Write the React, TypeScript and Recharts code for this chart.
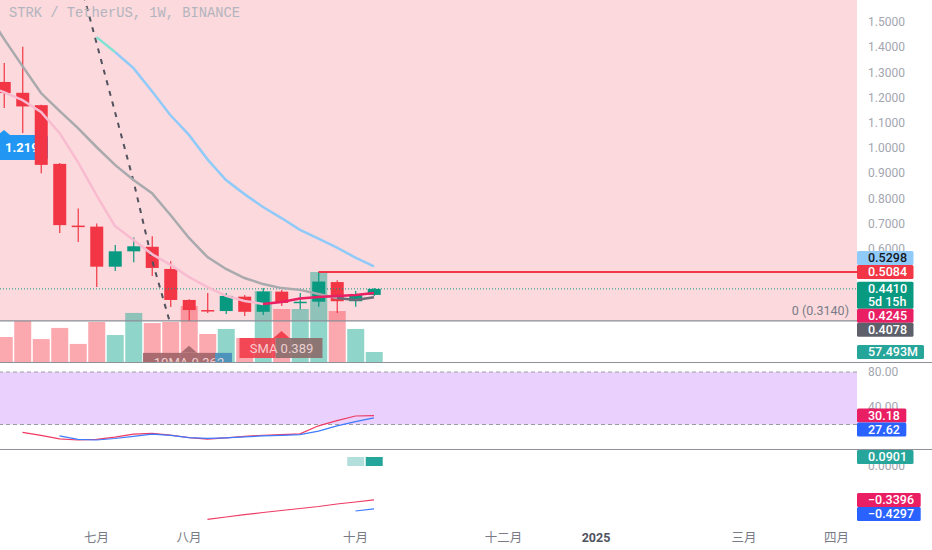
import React from "react";
import {
    ComposedChart,
    Bar,
    Line,
    XAxis,
    YAxis,
    ReferenceLine,
    ReferenceArea,
    ReferenceDot,
    Cell,
} from "recharts";

// week index (0 = first visible weekly candle), -1 only carries MA values
const weeks = [-1, 0, 1, 2, 3, 4, 5, 6, 7, 8, 9, 10, 11, 12, 13, 14, 15, 16, 17, 18, 19, 20];
const opens = [null, 1.262, 1.219, 1.17, 0.937, 0.692, 0.688, 0.529, 0.59, 0.608, 0.52, 0.397, 0.357, 0.353, 0.41, 0.35, 0.43, 0.385, 0.39, 0.468, 0.392, 0.417];
const highs = [null, 1.337, 1.402, 1.172, 0.94, 0.76, 0.7, 0.615, 0.645, 0.65, 0.551, 0.4, 0.425, 0.425, 0.417, 0.444, 0.437, 0.425, 0.5084, 0.475, 0.433, 0.444];
const lows = [null, 1.159, 1.06, 0.9, 0.663, 0.627, 0.448, 0.512, 0.547, 0.492, 0.369, 0.314, 0.345, 0.341, 0.333, 0.337, 0.373, 0.36, 0.37, 0.345, 0.37, 0.413];
const closes = [null, 1.218, 1.165, 0.933, 0.694, 0.688, 0.529, 0.59, 0.61, 0.524, 0.397, 0.357, 0.354, 0.413, 0.35, 0.43, 0.385, 0.39, 0.47, 0.392, 0.418, 0.441];
const volumes = [null, 144, 236, 132, 196, 104, 230, 155, 282, 224, 230, 322, 161, 190, 138, 408, 305, 305, 518, 293, 190, 57.493];

const blueMa = [null, null, null, null, null, null, null, 1.381, 1.317, 1.225, 1.13, 1.052, 0.955, 0.873, 0.817, 0.766, 0.722, 0.675, 0.64, 0.605, 0.565, 0.5298];
const tealMa = [null, null, null, null, null, null, 1.44, 1.381, null, null, null, null, null, null, null, null, null, null, null, null, null, null];
const grayMa = [1.547, 1.433, 1.325, 1.218, 1.147, 1.079, 1.004, 0.933, 0.873, 0.821, 0.734, 0.643, 0.567, 0.52, 0.484, 0.46, 0.444, 0.437, 0.421, 0.405, null, null];
const darkGrayMa = [null, null, null, null, null, null, null, null, null, null, null, null, null, null, null, null, null, null, null, 0.405, 0.397, 0.4078];
const pinkMa = [1.246, 1.222, 1.19, 1.143, 1.06, 0.944, 0.813, 0.69, 0.635, 0.579, 0.536, 0.488, 0.448, 0.413, 0.393, 0.381, null, null, null, null, null, null];
const crimsonMa = [null, null, null, null, null, null, null, null, null, null, null, null, null, null, null, 0.381, 0.389, 0.403, 0.409, 0.413, 0.417, 0.4245];
const dashMa = [null, null, null, null, null, 1.69, 1.417, 1.143, 0.869, 0.556, 0.3, null, null, null, null, null, null, null, null, null, null, null];

const stochK = [null, null, 11.1, 7.5, 3.5, 2.3, 3.0, 5.5, 9.1, 9.9, 7.8, 5.0, 3.4, 4.8, 6.5, 7.7, 8.5, 9.3, 18.5, 24.5, 29.7, 30.18];
const stochD = [null, null, null, null, 6.9, 3.0, 2.3, 4.0, 6.5, 9.1, 7.5, 5.0, 4.2, 4.8, 5.8, 6.9, 7.6, 8.5, 12.5, 18.5, 23.2, 27.62];

const macdLine = [null, null, null, null, null, null, null, null, null, null, null, null, -0.533, -0.51, -0.487, -0.465, -0.445, -0.425, -0.405, -0.38, -0.36, -0.3396];
const signalLine = [null, null, null, null, null, null, null, null, null, null, null, null, null, null, null, null, null, null, null, null, -0.45, -0.4297];
const macdHist = [null, null, null, null, null, null, null, null, null, null, null, null, null, null, null, null, null, null, null, null, 0.09, 0.0901];

const priceTicks = [0.6, 0.7, 0.8, 0.9, 1.0, 1.1, 1.2, 1.3, 1.4, 1.5];
const tickWeeks = [5, 10, 19, 27, 32, 40, 45];
const tickLabels = ["七月", "八月", "十月", "十二月", "2025", "三月", "四月"];

const TITLE = "STRK / TetherUS, 1W, BINANCE";
const COUNTDOWN = "5d 15h";
const MA10_TEXT = "10MA 0.362";
const LEFT_TAG_TEXT = "1.2193";

// layout
const W = 932;
const AXIS_W = 75;
const X_DOMAIN: [number, number] = [-0.216, 46.11];
const MAIN_H = 362;
const P_DOMAIN: [number, number] = [0.1508, 1.5873];
const VOL_MAX = 2081.5;
const RSI_TOP = 363;
const RSI_H = 86;
const RSI_DOMAIN: [number, number] = [-8, 90.29];
const MACD_TOP = 450;
const MACD_H = 100;
const X_AXIS_H = 28;
const MACD_DOMAIN: [number, number] = [-0.56, 0.16];

const UP = "#089981";
const DOWN = "#f23645";
const AXIS_TEXT = "#a3a6af";
const FONT = "Roboto, 'DejaVu Sans', sans-serif";

const rows = weeks.map((week, k) => ({
    week,
    open: opens[k],
    high: highs[k],
    low: lows[k],
    close: closes[k],
    vol: volumes[k],
    blue: blueMa[k],
    teal: tealMa[k],
    gray: grayMa[k],
    darkGray: darkGrayMa[k],
    pink: pinkMa[k],
    crimson: crimsonMa[k],
    dash: dashMa[k],
    k: stochK[k],
    d: stochD[k],
    macd: macdLine[k],
    signal: signalLine[k],
    hist: macdHist[k],
}));

const at = (arr: any[], week: number) => arr[weeks.indexOf(week)];
const last = (arr: any[]) => arr[arr.length - 1];

const fibLow = Math.min(...(lows.filter((v) => v != null) as number[]));
// horizontal ray from the swing high after week 9
const rayWeek = weeks.reduce((best, w, k) =>
    w > 9 && highs[k] != null && highs[k]! > at(highs, best) ? w : best, 10);
const rayHigh = at(highs, rayWeek);

const fmt = (v: number, d: number) => v.toFixed(d).replace("-", "\u2212");

const textWidth = (s: string) =>
    s.split("").reduce((sum, c) => {
        if (/[0-9]/.test(c)) return sum + 7.2;
        if (c === ".") return sum + 3.5;
        if (c === " ") return sum + 3.3;
        if (c === "M") return sum + 10.5;
        return sum + 7.2;
    }, 0);

type Tag = { value: number; text: string; sub?: string; bg: string; fg: string; anchor?: boolean; shift?: number };

function stackTags(tags: Tag[], dom: [number, number], plotH: number): Tag[] {
    const toPx = (v: number) => ((dom[1] - v) / (dom[1] - dom[0])) * plotH;
    let a = tags.findIndex((t) => t.anchor);
    if (a < 0) a = 0;
    const heights = tags.map((t) => (t.sub ? 27 : 14));
    const tops = tags.map((t) => toPx(t.value) - 7);
    const idx = tags.map((_, k) => k);
    const above = idx.filter((k) => tags[k].value > tags[a].value).sort((p, q) => tags[p].value - tags[q].value);
    let limit = tops[a];
    for (const k of above) {
        tops[k] = Math.min(tops[k], limit - heights[k]);
        limit = tops[k];
    }
    const below = idx.filter((k) => k !== a && tags[k].value <= tags[a].value).sort((p, q) => tags[q].value - tags[p].value);
    limit = tops[a] + heights[a];
    for (const k of below) {
        tops[k] = Math.max(tops[k], limit);
        limit = tops[k] + heights[k];
    }
    return tags.map((t, k) => ({ ...t, shift: tops[k] - (toPx(t.value) - 7) }));
}

const mainTags = stackTags(
    [
        { value: last(blueMa), text: fmt(last(blueMa), 4), bg: "#90caf9", fg: "#131722" },
        { value: rayHigh, text: fmt(rayHigh, 4), bg: "#f23645", fg: "#ffffff" },
        { value: last(closes), text: fmt(last(closes), 4), sub: COUNTDOWN, bg: UP, fg: "#ffffff", anchor: true },
        { value: last(crimsonMa), text: fmt(last(crimsonMa), 4), bg: "#e91e63", fg: "#ffffff" },
        { value: last(darkGrayMa), text: fmt(last(darkGrayMa), 4), bg: "#5d606b", fg: "#ffffff" },
    ],
    P_DOMAIN,
    MAIN_H
);
const volTag: Tag = { value: last(volumes), text: fmt(last(volumes), 3) + "M", bg: "#26a69a", fg: "#ffffff", shift: 0 };
const rsiTags = stackTags(
    [
        { value: last(stochK), text: fmt(last(stochK), 2), bg: "#e91e63", fg: "#ffffff", anchor: true },
        { value: last(stochD), text: fmt(last(stochD), 2), bg: "#2962ff", fg: "#ffffff" },
    ],
    RSI_DOMAIN,
    RSI_H
);
const macdTags = stackTags(
    [
        { value: last(macdHist), text: fmt(last(macdHist), 4), bg: "#26a69a", fg: "#ffffff", anchor: true },
        { value: last(macdLine), text: fmt(last(macdLine), 4), bg: "#e91e63", fg: "#ffffff" },
        { value: last(signalLine), text: fmt(last(signalLine), 4), bg: "#2962ff", fg: "#ffffff" },
    ],
    MACD_DOMAIN,
    MACD_H - X_AXIS_H
);

const candleRange = (d: any) => (d.low == null ? null : [d.low, d.high]);

const Candle = (props: any) => {
    const { x, y, width, height, payload } = props;
    if (!payload || payload.open == null) return null;
    const { open, close, high, low } = payload;
    const top = Math.min(y, y + height);
    const h = Math.abs(height);
    const ppu = high > low ? h / (high - low) : 0;
    const yOpen = top + (high - open) * ppu;
    const yClose = top + (high - close) * ppu;
    const color = close >= open ? UP : DOWN;
    const cx = x + width / 2;
    const bTop = Math.min(yOpen, yClose);
    const bH = Math.max(1.5, Math.abs(yOpen - yClose));
    return (
        <g>
            <line x1={cx} x2={cx} y1={top} y2={top + h} stroke={color} strokeWidth={1.2} />
            <rect x={x} y={bTop} width={width} height={bH} fill={color} />
        </g>
    );
};

const TagBox = (props: any) => {
    const { cx, cy, tag } = props;
    if (cx == null || cy == null) return null;
    const w = Math.max(textWidth(tag.text), tag.sub ? textWidth(tag.sub) : 0) + 17;
    const h = tag.sub ? 27 : 14;
    const top = cy - 7 + (tag.shift || 0);
    return (
        <g>
            <rect x={cx} y={top} width={w} height={h} rx={1.5} fill={tag.bg} />
            <text x={cx + 11} y={top + 11} fontSize={12.5} fontWeight={500} fontFamily={FONT} fill={tag.fg}>
                {tag.text}
            </text>
            {tag.sub && (
                <text x={cx + 11} y={top + 24} fontSize={12.5} fontWeight={500} fontFamily={FONT} fill={tag.fg}>
                    {tag.sub}
                </text>
            )}
        </g>
    );
};

// label hanging under a bar low, pointing up at it
const BarTag = (props: any) => {
    const { cx, cy, text, left, right, split, colorA, colorB, arrow } = props;
    if (cx == null || cy == null) return null;
    const top = cy + 32;
    return (
        <g>
            <polygon points={`${cx - 8},${top} ${cx},${top - 7} ${cx + 8},${top}`} fill={arrow} />
            <rect x={cx - left} y={top} width={split} height={20} fill={colorA} />
            <rect x={cx - left + split} y={top} width={left + right - split} height={20} fill={colorB} />
            <text x={cx} y={top + 14.5} textAnchor="middle" fontSize={13} fontFamily={FONT} fill="rgba(255,225,228,0.85)">
                {text}
            </text>
        </g>
    );
};

const LeftTag = (props: any) => {
    const { cx, cy } = props;
    if (cx == null || cy == null) return null;
    const top = cy + 27;
    return (
        <g>
            <polygon points={`${cx - 6},${top} ${cx},${top - 5} ${cx + 6},${top}`} fill="#2196f3" />
            <rect x={cx - 14} y={top} width={58} height={25} rx={3} fill="#2196f3" />
            <text x={cx + 1} y={top + 17} fontSize={13} fontWeight={700} fontFamily={FONT} fill="#ffffff">
                {LEFT_TAG_TEXT}
            </text>
        </g>
    );
};

const FibLabel = (props: any) => {
    const vb = props.viewBox || {};
    return (
        <text x={vb.x + vb.width - 8} y={vb.y - 6} textAnchor="end" fontSize={12.5} fontFamily={FONT} fill="#787b86">
            {`0 (${fibLow.toFixed(4)})`}
        </text>
    );
};

const MonthTick = (props: any) => {
    const { x, y, payload } = props;
    const label = tickLabels[tickWeeks.indexOf(payload.value)];
    const isYear = /^\d+$/.test(label);
    return (
        <text
            x={x}
            y={y + 12}
            textAnchor="middle"
            fontSize={12.5}
            fontFamily={isYear ? FONT : "'Noto Sans CJK SC', sans-serif"}
            fontWeight={isYear ? 700 : 400}
            fill={isYear ? "#50535e" : "#787b86"}
        >
            {label}
        </text>
    );
};

const axisTick = { fill: AXIS_TEXT, fontSize: 12, fontFamily: FONT };

function TagOverlay({ height, domain, bottom, tags }: { height: number; domain: [number, number]; bottom: number; tags: Tag[] }) {
    return (
        <ComposedChart width={W} height={height} data={rows} margin={{ top: 0, right: AXIS_W, bottom, left: 0 }}>
            <XAxis type="number" dataKey="week" domain={X_DOMAIN} allowDataOverflow hide />
            <YAxis yAxisId="t" domain={domain} allowDataOverflow hide />
            {tags.map((t, k) => (
                <ReferenceDot
                    key={k}
                    yAxisId="t"
                    x={X_DOMAIN[1]}
                    y={t.value}
                    ifOverflow="visible"
                    shape={(p: any) => <TagBox cx={p.cx} cy={p.cy} tag={t} />}
                />
            ))}
        </ComposedChart>
    );
}

const layer = (top: number, height: number): React.CSSProperties => ({
    position: "absolute",
    left: 0,
    top,
    width: W,
    height,
    overflow: "hidden",
});

// shared look for every moving-average line
const ma = { type: "linear" as const, dot: false, activeDot: false, isAnimationActive: false, strokeWidth: 2.5 };

export default function App() {
    return (
        <div style={{ position: "relative", width: W, height: 550, background: "#ffffff", overflow: "hidden" }}>
            <style>{"body{margin:0}"}</style>

            {/* MAIN PANE - background, axis, volume */}
            <div style={layer(0, MAIN_H)}>
                <ComposedChart width={W} height={MAIN_H} data={rows} margin={{ top: 0, right: 0, bottom: 0, left: 0 }}>
                    <XAxis type="number" dataKey="week" domain={X_DOMAIN} allowDataOverflow hide />
                    <YAxis
                        yAxisId="p"
                        orientation="right"
                        width={AXIS_W}
                        domain={P_DOMAIN}
                        allowDataOverflow
                        ticks={priceTicks}
                        tickFormatter={(v: number) => v.toFixed(4)}
                        tick={axisTick}
                        tickLine={false}
                        axisLine={false}
                        tickMargin={5}
                    />
                    <YAxis yAxisId="v" domain={[0, VOL_MAX]} allowDataOverflow hide />
                    <ReferenceArea
                        yAxisId="p"
                        y1={fibLow}
                        y2={P_DOMAIN[1]}
                        fill="#fcd9dc"
                        fillOpacity={1}
                        stroke="none"
                        ifOverflow="hidden"
                    />
                    <Bar yAxisId="v" dataKey="vol" barSize={17} isAnimationActive={false}>
                        {rows.map((r, k) => (
                            <Cell
                                key={k}
                                fill={r.close != null && r.open != null && r.close >= r.open ? "rgba(34,171,148,0.5)" : "rgba(247,82,95,0.5)"}
                            />
                        ))}
                    </Bar>
                    <ReferenceLine yAxisId="p" y={fibLow} stroke="#8a8d96" strokeWidth={1.2} label={<FibLabel />} />
                    <ReferenceDot
                        yAxisId="p"
                        x={0}
                        y={at(lows, 0)}
                        ifOverflow="visible"
                        shape={(p: any) => <LeftTag cx={p.cx} cy={p.cy} />}
                    />
                </ComposedChart>
            </div>

            {/* MAIN PANE - candles and moving averages */}
            <div style={layer(0, MAIN_H)}>
                <ComposedChart width={W} height={MAIN_H} data={rows} margin={{ top: 0, right: AXIS_W, bottom: 0, left: 0 }}>
                    <XAxis type="number" dataKey="week" domain={X_DOMAIN} allowDataOverflow hide />
                    <YAxis yAxisId="p" domain={P_DOMAIN} allowDataOverflow hide />
                    <YAxis yAxisId="v" domain={[0, VOL_MAX]} allowDataOverflow hide />
                    <ReferenceLine yAxisId="p" y={last(closes)} stroke={UP} strokeWidth={1} strokeDasharray="1 2" />
                    <Bar yAxisId="p" dataKey={candleRange} barSize={13} shape={Candle} isAnimationActive={false} />
                    <Line yAxisId="p" {...ma} dataKey="dash" stroke="#50535e" strokeWidth={2} strokeDasharray="5 6" />
                    <Line yAxisId="p" {...ma} dataKey="gray" stroke="#a9aaae" />
                    <Line yAxisId="p" {...ma} dataKey="darkGray" stroke="#6a6d78" />
                    <Line yAxisId="p" {...ma} dataKey="pink" stroke="#f8bbd0" />
                    <Line yAxisId="p" {...ma} dataKey="crimson" stroke="#e91e63" />
                    <Line yAxisId="p" {...ma} dataKey="blue" stroke="#90caf9" />
                    <Line yAxisId="p" {...ma} dataKey="teal" stroke="#7fe3d4" />
                    <ReferenceLine
                        yAxisId="p"
                        segment={[
                            { x: rayWeek, y: rayHigh },
                            { x: X_DOMAIN[1], y: rayHigh },
                        ]}
                        stroke="#f23645"
                        strokeWidth={2}
                        ifOverflow="visible"
                    />
                    <ReferenceDot
                        yAxisId="p"
                        x={15}
                        y={at(lows, 15)}
                        ifOverflow="visible"
                        shape={(p: any) => (
                            <BarTag
                                cx={p.cx}
                                cy={p.cy}
                                text={`SMA ${at(crimsonMa, 15).toFixed(3)}`}
                                left={42}
                                right={41}
                                split={36}
                                colorA="rgba(242,54,69,0.85)"
                                colorB="rgba(140,110,108,0.92)"
                                arrow="rgba(242,54,69,0.9)"
                            />
                        )}
                    />
                    <ReferenceDot
                        yAxisId="p"
                        x={10}
                        y={at(lows, 10)}
                        ifOverflow="visible"
                        shape={(p: any) => (
                            <BarTag
                                cx={p.cx}
                                cy={p.cy}
                                text={MA10_TEXT}
                                left={46}
                                right={43}
                                split={72}
                                colorA="rgba(160,100,104,0.9)"
                                colorB="rgba(70,140,185,0.9)"
                                arrow="rgba(160,100,104,0.9)"
                            />
                        )}
                    />
                    {mainTags.map((t, k) => (
                        <ReferenceDot
                            key={k}
                            yAxisId="p"
                            x={X_DOMAIN[1]}
                            y={t.value}
                            ifOverflow="visible"
                            shape={(p: any) => <TagBox cx={p.cx} cy={p.cy} tag={t} />}
                        />
                    ))}
                    <ReferenceDot
                        yAxisId="v"
                        x={X_DOMAIN[1]}
                        y={volTag.value}
                        ifOverflow="visible"
                        shape={(p: any) => <TagBox cx={p.cx} cy={p.cy} tag={volTag} />}
                    />
                </ComposedChart>
            </div>

            {/* title */}
            <div
                style={{
                    position: "absolute",
                    left: 9,
                    top: 6,
                    fontFamily: "'Liberation Mono', monospace",
                    fontSize: 13.75,
                    color: "#b2b5be",
                    whiteSpace: "pre",
                }}
            >
                {TITLE}
            </div>

            {/* STOCH RSI PANE */}
            <div style={layer(RSI_TOP, RSI_H)}>
                <ComposedChart width={W} height={RSI_H} data={rows} margin={{ top: 0, right: 0, bottom: 0, left: 0 }}>
                    <XAxis type="number" dataKey="week" domain={X_DOMAIN} allowDataOverflow hide />
                    <YAxis
                        yAxisId="r"
                        orientation="right"
                        width={AXIS_W}
                        domain={RSI_DOMAIN}
                        allowDataOverflow
                        ticks={[0, 40, 80]}
                        tickFormatter={(v: number) => v.toFixed(2)}
                        tick={axisTick}
                        tickLine={false}
                        axisLine={false}
                        tickMargin={5}
                    />
                    <ReferenceArea yAxisId="r" y1={20} y2={80} fill="#ead1fd" fillOpacity={1} stroke="none" />
                    <ReferenceLine yAxisId="r" y={80} stroke="#9a9ca3" strokeDasharray="4 3" />
                    <ReferenceLine yAxisId="r" y={20} stroke="#9a9ca3" strokeDasharray="4 3" />
                    <Line yAxisId="r" {...ma} dataKey="k" stroke="#ef3a63" strokeWidth={1.2} />
                    <Line yAxisId="r" {...ma} dataKey="d" stroke="#3d7bff" strokeWidth={1.2} />
                </ComposedChart>
            </div>
            <div style={layer(RSI_TOP, RSI_H)}>
                <TagOverlay height={RSI_H} domain={RSI_DOMAIN} bottom={0} tags={rsiTags} />
            </div>

            {/* MACD PANE + TIME AXIS */}
            <div style={layer(MACD_TOP, MACD_H)}>
                <ComposedChart width={W} height={MACD_H} data={rows} margin={{ top: 0, right: 0, bottom: 0, left: 0 }}>
                    <XAxis
                        type="number"
                        dataKey="week"
                        domain={X_DOMAIN}
                        allowDataOverflow
                        height={X_AXIS_H}
                        ticks={tickWeeks}
                        interval={0}
                        tick={<MonthTick />}
                        tickLine={false}
                        axisLine={false}
                    />
                    <YAxis
                        yAxisId="m"
                        orientation="right"
                        width={AXIS_W}
                        domain={MACD_DOMAIN}
                        allowDataOverflow
                        ticks={[0]}
                        tickFormatter={(v: number) => v.toFixed(4)}
                        tick={axisTick}
                        tickLine={false}
                        axisLine={false}
                        tickMargin={5}
                    />
                    <Bar yAxisId="m" dataKey="hist" barSize={17} isAnimationActive={false}>
                        {rows.map((r, k) => (
                            <Cell
                                key={k}
                                fill={k > 0 && rows[k - 1].hist != null && (r.hist as number) > (rows[k - 1].hist as number) ? "#26a69a" : "#b2dfdb"}
                            />
                        ))}
                    </Bar>
                    <Line yAxisId="m" {...ma} dataKey="macd" stroke="#ef3a63" strokeWidth={1.2} />
                    <Line yAxisId="m" {...ma} dataKey="signal" stroke="#3d7bff" strokeWidth={1.2} />
                </ComposedChart>
            </div>
            <div style={layer(MACD_TOP, MACD_H)}>
                <TagOverlay height={MACD_H} domain={MACD_DOMAIN} bottom={X_AXIS_H} tags={macdTags} />
            </div>

            {/* pane separators */}
            <div style={{ position: "absolute", left: 0, top: MAIN_H, width: W, height: 1, background: "#8f9199" }} />
            <div style={{ position: "absolute", left: 0, top: MACD_TOP - 1, width: W, height: 1, background: "#8f9199" }} />
        </div>
    );
}
